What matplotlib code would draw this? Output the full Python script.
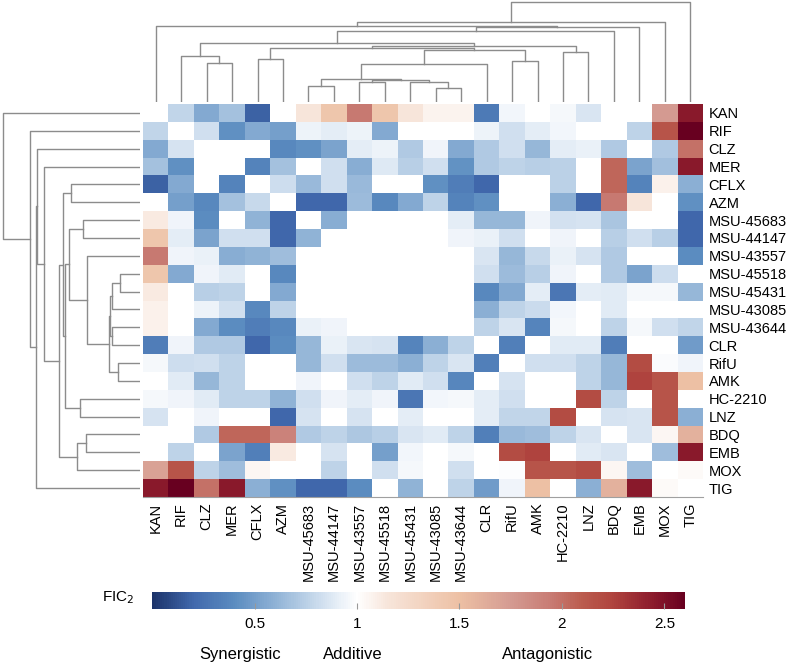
import numpy as np
import matplotlib
matplotlib.use("Agg")
import matplotlib.pyplot as plt
from matplotlib.colors import LinearSegmentedColormap, Normalize
from matplotlib.cm import ScalarMappable

plt.rcParams["font.family"] = ["Liberation Sans", "DejaVu Sans"]

# drugs, in clustered order (rows and columns use the same order)
drugs = ["KAN", "RIF", "CLZ", "MER", "CFLX", "AZM", "MSU-45683", "MSU-44147",
         "MSU-43557", "MSU-45518", "MSU-45431", "MSU-43085", "MSU-43644", "CLR",
         "RifU", "AMK", "HC-2210", "LNZ", "BDQ", "EMB", "MOX", "TIG"]

# FIC2 values, one list per row
fic_values = [
    [1.00, 0.78, 0.55, 0.68, 0.18, 1.00, 1.15, 1.45, 1.95, 1.45, 1.15, 1.07, 1.07, 0.30, 0.95, 1.00, 0.96, 0.86, 1.00, 1.00, 1.75, 2.45],
    [0.78, 1.00, 0.83, 0.42, 0.55, 0.50, 0.93, 0.90, 0.93, 0.55, 1.00, 1.00, 1.00, 0.93, 0.83, 0.90, 0.95, 1.00, 1.00, 0.77, 2.15, 2.60],
    [0.55, 0.85, 1.00, 1.00, 1.00, 0.38, 0.42, 0.52, 0.90, 0.93, 0.72, 0.94, 0.55, 0.72, 0.83, 0.62, 0.90, 0.92, 0.72, 1.00, 0.72, 2.00],
    [0.68, 0.42, 1.00, 1.00, 0.35, 0.68, 1.00, 0.83, 0.57, 0.88, 0.75, 0.83, 0.43, 0.72, 0.77, 0.75, 0.76, 1.00, 2.05, 0.52, 0.67, 2.45],
    [0.18, 0.55, 1.00, 0.35, 1.00, 0.82, 0.63, 0.83, 0.63, 1.00, 1.00, 0.42, 0.32, 0.20, 1.00, 1.00, 0.76, 1.00, 2.05, 0.35, 1.08, 0.58],
    [1.00, 0.50, 0.38, 0.68, 0.80, 1.00, 0.20, 0.20, 0.64, 0.38, 0.55, 0.77, 0.35, 0.42, 1.00, 1.00, 0.58, 0.20, 1.95, 1.15, 1.00, 0.42],
    [1.12, 0.94, 0.40, 1.00, 0.60, 0.20, 1.00, 0.57, 1.00, 1.00, 1.00, 1.00, 0.90, 0.62, 0.62, 0.94, 0.84, 0.85, 0.70, 1.00, 1.00, 0.20],
    [1.45, 0.90, 0.52, 0.83, 0.83, 0.20, 0.60, 1.00, 1.00, 1.00, 1.00, 1.00, 0.94, 0.92, 0.83, 1.00, 0.94, 1.00, 0.75, 0.83, 0.75, 0.20],
    [1.95, 0.94, 0.92, 0.57, 0.60, 0.66, 1.00, 1.00, 1.00, 1.00, 1.00, 1.00, 1.00, 0.86, 0.62, 0.80, 0.92, 0.85, 0.72, 1.00, 1.00, 0.40],
    [1.45, 0.55, 0.94, 0.89, 1.00, 0.38, 1.00, 1.00, 1.00, 1.00, 1.00, 1.00, 1.00, 0.83, 0.64, 0.75, 0.94, 1.00, 0.72, 0.52, 0.82, 1.00],
    [1.12, 1.00, 0.75, 0.77, 1.00, 0.55, 1.00, 1.00, 1.00, 1.00, 1.00, 1.00, 1.00, 0.38, 0.55, 0.90, 0.28, 0.90, 0.89, 0.96, 0.96, 0.62],
    [1.08, 1.00, 0.93, 0.83, 0.38, 0.77, 1.00, 1.00, 1.00, 1.00, 1.00, 1.00, 1.00, 0.58, 0.77, 0.81, 0.95, 1.00, 0.89, 1.00, 1.00, 1.00],
    [1.08, 1.00, 0.55, 0.40, 0.32, 0.38, 0.92, 0.94, 1.00, 1.00, 1.00, 1.00, 1.00, 0.77, 0.86, 0.36, 0.96, 1.00, 0.77, 0.96, 0.83, 0.78],
    [0.32, 0.94, 0.72, 0.72, 0.20, 0.40, 0.62, 0.92, 0.86, 0.85, 0.36, 0.58, 0.77, 1.00, 0.33, 1.00, 0.89, 0.89, 0.32, 1.00, 1.00, 0.48],
    [0.96, 0.82, 0.83, 0.77, 1.00, 1.00, 0.62, 0.83, 0.64, 0.64, 0.58, 0.77, 0.86, 0.33, 1.00, 0.83, 0.83, 0.77, 0.62, 2.20, 0.98, 0.94],
    [1.00, 0.89, 0.62, 0.77, 1.00, 1.00, 0.94, 1.00, 0.83, 0.77, 0.89, 0.83, 0.37, 1.00, 0.85, 1.00, 1.00, 0.77, 0.62, 2.25, 2.15, 1.50],
    [0.96, 0.94, 0.89, 0.77, 0.77, 0.60, 0.83, 0.94, 0.90, 0.94, 0.28, 0.95, 0.96, 0.90, 0.83, 1.00, 1.00, 2.20, 0.77, 1.00, 2.15, 1.00],
    [0.85, 1.00, 0.94, 1.00, 1.00, 0.20, 0.85, 1.00, 0.85, 1.00, 0.90, 1.00, 1.00, 0.90, 0.78, 0.78, 2.20, 1.00, 0.85, 0.86, 2.15, 0.58],
    [1.00, 1.00, 0.72, 2.05, 2.05, 1.90, 0.72, 0.77, 0.71, 0.75, 0.86, 0.89, 0.77, 0.33, 0.63, 0.66, 0.77, 0.86, 1.00, 0.86, 1.05, 1.60],
    [1.00, 0.77, 1.00, 0.52, 0.33, 1.12, 1.00, 0.85, 1.00, 0.50, 0.95, 1.00, 0.96, 1.00, 2.20, 2.25, 1.00, 0.89, 0.86, 1.00, 0.66, 2.45],
    [1.70, 2.15, 0.77, 0.66, 1.05, 1.00, 1.00, 0.77, 1.00, 0.83, 0.96, 1.00, 0.83, 1.00, 0.99, 2.15, 2.15, 2.20, 1.05, 0.66, 1.00, 1.03],
    [2.45, 2.60, 2.00, 2.45, 0.58, 0.42, 0.20, 0.20, 0.40, 1.00, 0.60, 1.00, 0.77, 0.48, 0.94, 1.50, 1.00, 0.58, 1.60, 2.45, 1.03, 1.00],
]

# linkage merges: (node a, node b, height); new nodes are numbered from 22 up
col_links = [(2, 3, 114), (1, 22, 135), (4, 5, 126), (6, 7, 46), (8, 9, 59),
             (11, 12, 42), (10, 27, 59), (26, 28, 64), (25, 29, 66), (30, 13, 110),
             (14, 15, 120), (31, 32, 152), (16, 17, 146), (24, 33, 158), (35, 34, 164),
             (23, 36, 171), (37, 18, 206), (38, 19, 219), (0, 39, 222), (40, 20, 235),
             (41, 21, 292)]
row_links = [(4, 5, 208), (6, 7, 173), (9, 10, 62), (24, 11, 85), (12, 13, 84),
             (25, 26, 90), (14, 15, 68), (27, 28, 95), (8, 29, 160), (23, 30, 217),
             (16, 17, 181), (31, 32, 227), (22, 33, 234), (18, 19, 163), (35, 20, 190),
             (34, 36, 245), (3, 37, 292), (2, 38, 313), (39, 21, 315), (1, 40, 335),
             (0, 41, 417)]

cbar_ticks = [0.5, 1, 1.5, 2, 2.5]
cbar_ticklabels = ["0.5", "1", "1.5", "2", "2.5"]
effects = ["Synergistic", "Additive", "Antagonistic"]
effect_pos = [0.43, 0.98, 1.93]

# colormap: blue below 1, white at 1, red above
vmin, vmax = 0.0, 2.6
cmap_nodes = [(0.0, "#1c336a"), (0.2, "#4169ad"), (0.4, "#5b8cc0"), (0.6, "#90b3d6"),
              (0.8, "#c8daec"), (0.93, "#eef3f9"), (1.0, "#ffffff"), (1.15, "#f7e5da"),
              (1.5, "#edc0a4"), (1.75, "#d49b92"), (1.95, "#c87b73"), (2.1, "#bb5c4e"),
              (2.25, "#b0443e"), (2.45, "#8b1a2c"), (2.6, "#680020")]
cmap = LinearSegmentedColormap.from_list(
    "fic", [((v - vmin) / (vmax - vmin), c) for v, c in cmap_nodes])
norm = Normalize(vmin, vmax)

W, H = 791, 665


def box(x0, y0, x1, y1):
    # pixel box (top-left origin) -> figure fraction
    return [x0 / W, 1 - y1 / H, (x1 - x0) / W, (y1 - y0) / H]


def dendro_lines(links, n):
    pos = list(np.arange(n) + 0.5)
    hgt = [0.0] * n
    lines = []
    for a, b, h in links:
        lines.append(([pos[a], pos[a], pos[b], pos[b]], [hgt[a], h, h, hgt[b]]))
        pos.append((pos[a] + pos[b]) / 2)
        hgt.append(h)
    return lines


n = len(drugs)
data = np.array(fic_values)
line_color = "#8c8c8c"

fig = plt.figure(figsize=(W / 100, H / 100), dpi=100)

# heatmap
ax = fig.add_axes(box(143, 104, 703, 497))
ax.pcolormesh(np.arange(n + 1), np.arange(n + 1), data, cmap=cmap, norm=norm)
ax.set_xlim(0, n)
ax.set_ylim(n, 0)
ax.set_xticks(np.arange(n) + 0.5, drugs, rotation=90, fontsize=10.5)
ax.yaxis.tick_right()
ax.set_yticks(np.arange(n) + 0.5, drugs, fontsize=10.5)
ax.tick_params(length=0, pad=4)
for side in ["top", "left", "right"]:
    ax.spines[side].set_visible(False)
ax.spines["bottom"].set_color("#a0a0a0")

# column dendrogram
ax_top = fig.add_axes(box(143, 1, 703, 102))
for xs, ys in dendro_lines(col_links, n):
    ax_top.plot(xs, ys, color=line_color, lw=1)
ax_top.set_xlim(0, n)
ax_top.set_ylim(0, 295)
ax_top.axis("off")

# row dendrogram
ax_left = fig.add_axes(box(0, 104, 140, 497))
for xs, ys in dendro_lines(row_links, n):
    ax_left.plot(ys, xs, color=line_color, lw=1)
ax_left.set_xlim(425, 0)
ax_left.set_ylim(n, 0)
ax_left.axis("off")

# colorbar
cax = fig.add_axes(box(152, 592, 685, 609))
cb = fig.colorbar(ScalarMappable(norm=norm, cmap=cmap), cax=cax,
                  orientation="horizontal", ticks=cbar_ticks)
cb.ax.set_xticklabels(cbar_ticklabels)
cb.outline.set_visible(False)
cax.tick_params(direction="in", length=4, color="#999999", labelsize=11, pad=6)

fig.text(102 / W, 1 - 598 / H, "FIC$_2$", fontsize=11, ha="left", va="center")
for label, v in zip(effects, effect_pos):
    cax.text(v, -2.7, label, transform=cax.get_xaxis_transform(),
             ha="center", va="center", fontsize=12)

fig.savefig("out.png", dpi=100)
